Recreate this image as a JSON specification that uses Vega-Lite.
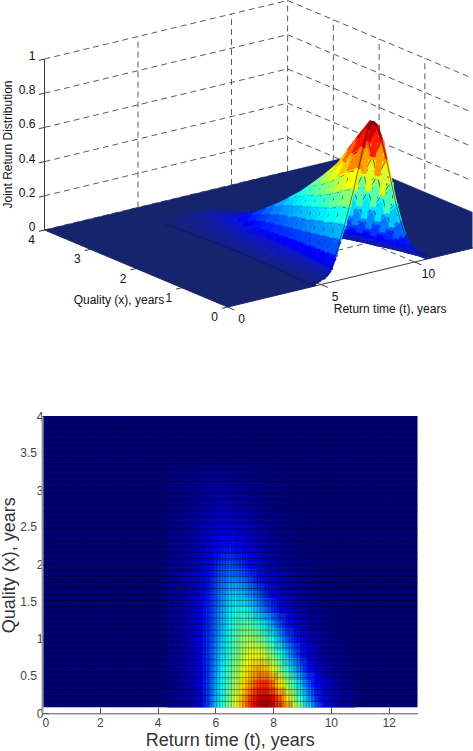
{"$schema":"https://vega.github.io/schema/vega-lite/v6.json","background":"white","padding":0,"spacing":0,"bounds":"flush","resolve":{"scale":{"color":"independent"}},"config":{"view":{"stroke":null},"font":"Liberation Sans"},
"datasets":{"surface":[
{"q":0,"t":4.5,"z":0.012},{"q":0,"t":4.75,"z":0.018},{"q":0,"t":5,"z":0.03},{"q":0,"t":5.25,"z":0.04},{"q":0,"t":5.5,"z":0.07},{"q":0,"t":5.75,"z":0.14},{"q":0,"t":6,"z":0.23},{"q":0,"t":6.25,"z":0.31},{"q":0,"t":6.5,"z":0.41},{"q":0,"t":6.75,"z":0.51},{"q":0,"t":7,"z":0.62},{"q":0,"t":7.25,"z":0.74},{"q":0,"t":7.5,"z":0.84},{"q":0,"t":7.75,"z":0.88},{"q":0,"t":8,"z":0.85},{"q":0,"t":8.25,"z":0.76},{"q":0,"t":8.5,"z":0.64},{"q":0,"t":8.75,"z":0.5},{"q":0,"t":9,"z":0.37},{"q":0,"t":9.25,"z":0.26},{"q":0,"t":9.5,"z":0.17},{"q":0,"t":9.75,"z":0.11},{"q":0,"t":10,"z":0.07},{"q":0,"t":10.25,"z":0.045},{"q":0,"t":10.5,"z":0.03},{"q":0,"t":10.75,"z":0.02},
{"q":0.2,"t":4.5,"z":0.014},{"q":0.2,"t":4.75,"z":0.02},{"q":0.2,"t":5,"z":0.032},{"q":0.2,"t":5.25,"z":0.045},{"q":0.2,"t":5.5,"z":0.075},{"q":0.2,"t":5.75,"z":0.14},{"q":0.2,"t":6,"z":0.22},{"q":0.2,"t":6.25,"z":0.3},{"q":0.2,"t":6.5,"z":0.39},{"q":0.2,"t":6.75,"z":0.48},{"q":0.2,"t":7,"z":0.58},{"q":0.2,"t":7.25,"z":0.68},{"q":0.2,"t":7.5,"z":0.76},{"q":0.2,"t":7.75,"z":0.79},{"q":0.2,"t":8,"z":0.74},{"q":0.2,"t":8.25,"z":0.64},{"q":0.2,"t":8.5,"z":0.52},{"q":0.2,"t":8.75,"z":0.4},{"q":0.2,"t":9,"z":0.29},{"q":0.2,"t":9.25,"z":0.2},{"q":0.2,"t":9.5,"z":0.13},{"q":0.2,"t":9.75,"z":0.085},{"q":0.2,"t":10,"z":0.055},{"q":0.2,"t":10.25,"z":0.035},{"q":0.2,"t":10.5,"z":0.022},{"q":0.2,"t":10.75,"z":0.014},
{"q":0.4,"t":4.5,"z":0.016},{"q":0.4,"t":4.75,"z":0.022},{"q":0.4,"t":5,"z":0.035},{"q":0.4,"t":5.25,"z":0.05},{"q":0.4,"t":5.5,"z":0.08},{"q":0.4,"t":5.75,"z":0.14},{"q":0.4,"t":6,"z":0.21},{"q":0.4,"t":6.25,"z":0.28},{"q":0.4,"t":6.5,"z":0.36},{"q":0.4,"t":6.75,"z":0.44},{"q":0.4,"t":7,"z":0.53},{"q":0.4,"t":7.25,"z":0.61},{"q":0.4,"t":7.5,"z":0.67},{"q":0.4,"t":7.75,"z":0.68},{"q":0.4,"t":8,"z":0.62},{"q":0.4,"t":8.25,"z":0.52},{"q":0.4,"t":8.5,"z":0.41},{"q":0.4,"t":8.75,"z":0.31},{"q":0.4,"t":9,"z":0.22},{"q":0.4,"t":9.25,"z":0.15},{"q":0.4,"t":9.5,"z":0.1},{"q":0.4,"t":9.75,"z":0.065},{"q":0.4,"t":10,"z":0.042},{"q":0.4,"t":10.25,"z":0.027},{"q":0.4,"t":10.5,"z":0.017},{"q":0.4,"t":10.75,"z":0.011},
{"q":0.6,"t":4.5,"z":0.018},{"q":0.6,"t":4.75,"z":0.024},{"q":0.6,"t":5,"z":0.038},{"q":0.6,"t":5.25,"z":0.055},{"q":0.6,"t":5.5,"z":0.085},{"q":0.6,"t":5.75,"z":0.135},{"q":0.6,"t":6,"z":0.2},{"q":0.6,"t":6.25,"z":0.27},{"q":0.6,"t":6.5,"z":0.34},{"q":0.6,"t":6.75,"z":0.41},{"q":0.6,"t":7,"z":0.48},{"q":0.6,"t":7.25,"z":0.54},{"q":0.6,"t":7.5,"z":0.57},{"q":0.6,"t":7.75,"z":0.55},{"q":0.6,"t":8,"z":0.48},{"q":0.6,"t":8.25,"z":0.39},{"q":0.6,"t":8.5,"z":0.3},{"q":0.6,"t":8.75,"z":0.22},{"q":0.6,"t":9,"z":0.155},{"q":0.6,"t":9.25,"z":0.105},{"q":0.6,"t":9.5,"z":0.07},{"q":0.6,"t":9.75,"z":0.045},{"q":0.6,"t":10,"z":0.03},{"q":0.6,"t":10.25,"z":0.019},{"q":0.6,"t":10.5,"z":0.012},{"q":0.6,"t":10.75,"z":0.008},
{"q":0.8,"t":4.5,"z":0.02},{"q":0.8,"t":4.75,"z":0.027},{"q":0.8,"t":5,"z":0.04},{"q":0.8,"t":5.25,"z":0.06},{"q":0.8,"t":5.5,"z":0.09},{"q":0.8,"t":5.75,"z":0.135},{"q":0.8,"t":6,"z":0.19},{"q":0.8,"t":6.25,"z":0.25},{"q":0.8,"t":6.5,"z":0.32},{"q":0.8,"t":6.75,"z":0.38},{"q":0.8,"t":7,"z":0.44},{"q":0.8,"t":7.25,"z":0.485},{"q":0.8,"t":7.5,"z":0.48},{"q":0.8,"t":7.75,"z":0.44},{"q":0.8,"t":8,"z":0.37},{"q":0.8,"t":8.25,"z":0.29},{"q":0.8,"t":8.5,"z":0.22},{"q":0.8,"t":8.75,"z":0.16},{"q":0.8,"t":9,"z":0.11},{"q":0.8,"t":9.25,"z":0.075},{"q":0.8,"t":9.5,"z":0.05},{"q":0.8,"t":9.75,"z":0.032},{"q":0.8,"t":10,"z":0.021},{"q":0.8,"t":10.25,"z":0.013},{"q":0.8,"t":10.5,"z":0.008},{"q":0.8,"t":10.75,"z":0.005},
{"q":1,"t":4.5,"z":0.021},{"q":1,"t":4.75,"z":0.029},{"q":1,"t":5,"z":0.043},{"q":1,"t":5.25,"z":0.062},{"q":1,"t":5.5,"z":0.09},{"q":1,"t":5.75,"z":0.13},{"q":1,"t":6,"z":0.18},{"q":1,"t":6.25,"z":0.24},{"q":1,"t":6.5,"z":0.3},{"q":1,"t":6.75,"z":0.36},{"q":1,"t":7,"z":0.41},{"q":1,"t":7.25,"z":0.42},{"q":1,"t":7.5,"z":0.39},{"q":1,"t":7.75,"z":0.34},{"q":1,"t":8,"z":0.28},{"q":1,"t":8.25,"z":0.215},{"q":1,"t":8.5,"z":0.16},{"q":1,"t":8.75,"z":0.115},{"q":1,"t":9,"z":0.08},{"q":1,"t":9.25,"z":0.054},{"q":1,"t":9.5,"z":0.036},{"q":1,"t":9.75,"z":0.023},{"q":1,"t":10,"z":0.015},{"q":1,"t":10.25,"z":0.009},{"q":1,"t":10.5,"z":0.006},{"q":1,"t":10.75,"z":0.004},
{"q":1.2,"t":4.5,"z":0.022},{"q":1.2,"t":4.75,"z":0.03},{"q":1.2,"t":5,"z":0.044},{"q":1.2,"t":5.25,"z":0.063},{"q":1.2,"t":5.5,"z":0.09},{"q":1.2,"t":5.75,"z":0.125},{"q":1.2,"t":6,"z":0.17},{"q":1.2,"t":6.25,"z":0.22},{"q":1.2,"t":6.5,"z":0.28},{"q":1.2,"t":6.75,"z":0.33},{"q":1.2,"t":7,"z":0.35},{"q":1.2,"t":7.25,"z":0.34},{"q":1.2,"t":7.5,"z":0.3},{"q":1.2,"t":7.75,"z":0.25},{"q":1.2,"t":8,"z":0.2},{"q":1.2,"t":8.25,"z":0.15},{"q":1.2,"t":8.5,"z":0.11},{"q":1.2,"t":8.75,"z":0.078},{"q":1.2,"t":9,"z":0.054},{"q":1.2,"t":9.25,"z":0.036},{"q":1.2,"t":9.5,"z":0.024},{"q":1.2,"t":9.75,"z":0.016},{"q":1.2,"t":10,"z":0.01},{"q":1.2,"t":10.25,"z":0.006},{"q":1.2,"t":10.5,"z":0.004},{"q":1.2,"t":10.75,"z":0.003},
{"q":1.4,"t":4.5,"z":0.023},{"q":1.4,"t":4.75,"z":0.031},{"q":1.4,"t":5,"z":0.045},{"q":1.4,"t":5.25,"z":0.064},{"q":1.4,"t":5.5,"z":0.088},{"q":1.4,"t":5.75,"z":0.12},{"q":1.4,"t":6,"z":0.16},{"q":1.4,"t":6.25,"z":0.21},{"q":1.4,"t":6.5,"z":0.26},{"q":1.4,"t":6.75,"z":0.29},{"q":1.4,"t":7,"z":0.285},{"q":1.4,"t":7.25,"z":0.25},{"q":1.4,"t":7.5,"z":0.21},{"q":1.4,"t":7.75,"z":0.17},{"q":1.4,"t":8,"z":0.13},{"q":1.4,"t":8.25,"z":0.095},{"q":1.4,"t":8.5,"z":0.07},{"q":1.4,"t":8.75,"z":0.05},{"q":1.4,"t":9,"z":0.034},{"q":1.4,"t":9.25,"z":0.023},{"q":1.4,"t":9.5,"z":0.015},{"q":1.4,"t":9.75,"z":0.01},{"q":1.4,"t":10,"z":0.006},{"q":1.4,"t":10.25,"z":0.004},{"q":1.4,"t":10.5,"z":0.003},{"q":1.4,"t":10.75,"z":0.002},
{"q":1.6,"t":4.5,"z":0.023},{"q":1.6,"t":4.75,"z":0.031},{"q":1.6,"t":5,"z":0.044},{"q":1.6,"t":5.25,"z":0.062},{"q":1.6,"t":5.5,"z":0.085},{"q":1.6,"t":5.75,"z":0.115},{"q":1.6,"t":6,"z":0.15},{"q":1.6,"t":6.25,"z":0.19},{"q":1.6,"t":6.5,"z":0.23},{"q":1.6,"t":6.75,"z":0.24},{"q":1.6,"t":7,"z":0.22},{"q":1.6,"t":7.25,"z":0.19},{"q":1.6,"t":7.5,"z":0.155},{"q":1.6,"t":7.75,"z":0.12},{"q":1.6,"t":8,"z":0.09},{"q":1.6,"t":8.25,"z":0.066},{"q":1.6,"t":8.5,"z":0.048},{"q":1.6,"t":8.75,"z":0.034},{"q":1.6,"t":9,"z":0.023},{"q":1.6,"t":9.25,"z":0.015},{"q":1.6,"t":9.5,"z":0.01},{"q":1.6,"t":9.75,"z":0.006},{"q":1.6,"t":10,"z":0.004},{"q":1.6,"t":10.25,"z":0.003},{"q":1.6,"t":10.5,"z":0.002},{"q":1.6,"t":10.75,"z":0.001},
{"q":1.8,"t":4.5,"z":0.022},{"q":1.8,"t":4.75,"z":0.03},{"q":1.8,"t":5,"z":0.042},{"q":1.8,"t":5.25,"z":0.058},{"q":1.8,"t":5.5,"z":0.08},{"q":1.8,"t":5.75,"z":0.105},{"q":1.8,"t":6,"z":0.135},{"q":1.8,"t":6.25,"z":0.165},{"q":1.8,"t":6.5,"z":0.19},{"q":1.8,"t":6.75,"z":0.185},{"q":1.8,"t":7,"z":0.165},{"q":1.8,"t":7.25,"z":0.14},{"q":1.8,"t":7.5,"z":0.11},{"q":1.8,"t":7.75,"z":0.085},{"q":1.8,"t":8,"z":0.063},{"q":1.8,"t":8.25,"z":0.046},{"q":1.8,"t":8.5,"z":0.033},{"q":1.8,"t":8.75,"z":0.023},{"q":1.8,"t":9,"z":0.015},{"q":1.8,"t":9.25,"z":0.01},{"q":1.8,"t":9.5,"z":0.006},{"q":1.8,"t":9.75,"z":0.004},{"q":1.8,"t":10,"z":0.003},{"q":1.8,"t":10.25,"z":0.002},{"q":1.8,"t":10.5,"z":0.001},{"q":1.8,"t":10.75,"z":0.001},
{"q":2,"t":4.5,"z":0.021},{"q":2,"t":4.75,"z":0.028},{"q":2,"t":5,"z":0.038},{"q":2,"t":5.25,"z":0.052},{"q":2,"t":5.5,"z":0.07},{"q":2,"t":5.75,"z":0.09},{"q":2,"t":6,"z":0.115},{"q":2,"t":6.25,"z":0.14},{"q":2,"t":6.5,"z":0.15},{"q":2,"t":6.75,"z":0.14},{"q":2,"t":7,"z":0.12},{"q":2,"t":7.25,"z":0.1},{"q":2,"t":7.5,"z":0.08},{"q":2,"t":7.75,"z":0.06},{"q":2,"t":8,"z":0.045},{"q":2,"t":8.25,"z":0.032},{"q":2,"t":8.5,"z":0.023},{"q":2,"t":8.75,"z":0.016},{"q":2,"t":9,"z":0.01},{"q":2,"t":9.25,"z":0.007},{"q":2,"t":9.5,"z":0.004},{"q":2,"t":9.75,"z":0.003},{"q":2,"t":10,"z":0.002},{"q":2,"t":10.25,"z":0.001},{"q":2,"t":10.5,"z":0.001},{"q":2,"t":10.75,"z":0.001},
{"q":2.2,"t":4.5,"z":0.019},{"q":2.2,"t":4.75,"z":0.025},{"q":2.2,"t":5,"z":0.034},{"q":2.2,"t":5.25,"z":0.045},{"q":2.2,"t":5.5,"z":0.06},{"q":2.2,"t":5.75,"z":0.075},{"q":2.2,"t":6,"z":0.095},{"q":2.2,"t":6.25,"z":0.11},{"q":2.2,"t":6.5,"z":0.115},{"q":2.2,"t":6.75,"z":0.105},{"q":2.2,"t":7,"z":0.09},{"q":2.2,"t":7.25,"z":0.074},{"q":2.2,"t":7.5,"z":0.058},{"q":2.2,"t":7.75,"z":0.044},{"q":2.2,"t":8,"z":0.032},{"q":2.2,"t":8.25,"z":0.023},{"q":2.2,"t":8.5,"z":0.016},{"q":2.2,"t":8.75,"z":0.011},{"q":2.2,"t":9,"z":0.007},{"q":2.2,"t":9.25,"z":0.005},{"q":2.2,"t":9.5,"z":0.003},{"q":2.2,"t":9.75,"z":0.002},{"q":2.2,"t":10,"z":0.001},{"q":2.2,"t":10.25,"z":0.001},{"q":2.2,"t":10.5,"z":0.001},{"q":2.2,"t":10.75,"z":0.001},
{"q":2.4,"t":4.5,"z":0.017},{"q":2.4,"t":4.75,"z":0.022},{"q":2.4,"t":5,"z":0.03},{"q":2.4,"t":5.25,"z":0.039},{"q":2.4,"t":5.5,"z":0.05},{"q":2.4,"t":5.75,"z":0.063},{"q":2.4,"t":6,"z":0.078},{"q":2.4,"t":6.25,"z":0.088},{"q":2.4,"t":6.5,"z":0.088},{"q":2.4,"t":6.75,"z":0.078},{"q":2.4,"t":7,"z":0.066},{"q":2.4,"t":7.25,"z":0.054},{"q":2.4,"t":7.5,"z":0.042},{"q":2.4,"t":7.75,"z":0.031},{"q":2.4,"t":8,"z":0.023},{"q":2.4,"t":8.25,"z":0.016},{"q":2.4,"t":8.5,"z":0.011},{"q":2.4,"t":8.75,"z":0.008},{"q":2.4,"t":9,"z":0.005},{"q":2.4,"t":9.25,"z":0.003},{"q":2.4,"t":9.5,"z":0.002},{"q":2.4,"t":9.75,"z":0.001},{"q":2.4,"t":10,"z":0.001},{"q":2.4,"t":10.25,"z":0.001},{"q":2.4,"t":10.5,"z":0},{"q":2.4,"t":10.75,"z":0},
{"q":2.6,"t":4.5,"z":0.015},{"q":2.6,"t":4.75,"z":0.019},{"q":2.6,"t":5,"z":0.025},{"q":2.6,"t":5.25,"z":0.032},{"q":2.6,"t":5.5,"z":0.041},{"q":2.6,"t":5.75,"z":0.052},{"q":2.6,"t":6,"z":0.062},{"q":2.6,"t":6.25,"z":0.068},{"q":2.6,"t":6.5,"z":0.066},{"q":2.6,"t":6.75,"z":0.058},{"q":2.6,"t":7,"z":0.048},{"q":2.6,"t":7.25,"z":0.038},{"q":2.6,"t":7.5,"z":0.03},{"q":2.6,"t":7.75,"z":0.022},{"q":2.6,"t":8,"z":0.016},{"q":2.6,"t":8.25,"z":0.011},{"q":2.6,"t":8.5,"z":0.008},{"q":2.6,"t":8.75,"z":0.005},{"q":2.6,"t":9,"z":0.003},{"q":2.6,"t":9.25,"z":0.002},{"q":2.6,"t":9.5,"z":0.001},{"q":2.6,"t":9.75,"z":0.001},{"q":2.6,"t":10,"z":0},{"q":2.6,"t":10.25,"z":0},{"q":2.6,"t":10.5,"z":0},{"q":2.6,"t":10.75,"z":0},
{"q":2.8,"t":4.5,"z":0.012},{"q":2.8,"t":4.75,"z":0.016},{"q":2.8,"t":5,"z":0.02},{"q":2.8,"t":5.25,"z":0.026},{"q":2.8,"t":5.5,"z":0.033},{"q":2.8,"t":5.75,"z":0.04},{"q":2.8,"t":6,"z":0.047},{"q":2.8,"t":6.25,"z":0.05},{"q":2.8,"t":6.5,"z":0.047},{"q":2.8,"t":6.75,"z":0.04},{"q":2.8,"t":7,"z":0.033},{"q":2.8,"t":7.25,"z":0.026},{"q":2.8,"t":7.5,"z":0.02},{"q":2.8,"t":7.75,"z":0.015},{"q":2.8,"t":8,"z":0.011},{"q":2.8,"t":8.25,"z":0.007},{"q":2.8,"t":8.5,"z":0.005},{"q":2.8,"t":8.75,"z":0.003},{"q":2.8,"t":9,"z":0.002},{"q":2.8,"t":9.25,"z":0.001},{"q":2.8,"t":9.5,"z":0.001},{"q":2.8,"t":9.75,"z":0},{"q":2.8,"t":10,"z":0},{"q":2.8,"t":10.25,"z":0},{"q":2.8,"t":10.5,"z":0},{"q":2.8,"t":10.75,"z":0},
{"q":3,"t":4.5,"z":0.01},{"q":3,"t":4.75,"z":0.013},{"q":3,"t":5,"z":0.016},{"q":3,"t":5.25,"z":0.02},{"q":3,"t":5.5,"z":0.025},{"q":3,"t":5.75,"z":0.03},{"q":3,"t":6,"z":0.034},{"q":3,"t":6.25,"z":0.035},{"q":3,"t":6.5,"z":0.032},{"q":3,"t":6.75,"z":0.027},{"q":3,"t":7,"z":0.022},{"q":3,"t":7.25,"z":0.017},{"q":3,"t":7.5,"z":0.013},{"q":3,"t":7.75,"z":0.01},{"q":3,"t":8,"z":0.007},{"q":3,"t":8.25,"z":0.005},{"q":3,"t":8.5,"z":0.003},{"q":3,"t":8.75,"z":0.002},{"q":3,"t":9,"z":0.001},{"q":3,"t":9.25,"z":0.001},{"q":3,"t":9.5,"z":0},{"q":3,"t":9.75,"z":0},{"q":3,"t":10,"z":0},{"q":3,"t":10.25,"z":0},{"q":3,"t":10.5,"z":0},{"q":3,"t":10.75,"z":0},
{"q":3.2,"t":4.5,"z":0.008},{"q":3.2,"t":4.75,"z":0.01},{"q":3.2,"t":5,"z":0.012},{"q":3.2,"t":5.25,"z":0.015},{"q":3.2,"t":5.5,"z":0.019},{"q":3.2,"t":5.75,"z":0.022},{"q":3.2,"t":6,"z":0.024},{"q":3.2,"t":6.25,"z":0.023},{"q":3.2,"t":6.5,"z":0.02},{"q":3.2,"t":6.75,"z":0.017},{"q":3.2,"t":7,"z":0.013},{"q":3.2,"t":7.25,"z":0.01},{"q":3.2,"t":7.5,"z":0.008},{"q":3.2,"t":7.75,"z":0.006},{"q":3.2,"t":8,"z":0.004},{"q":3.2,"t":8.25,"z":0.003},{"q":3.2,"t":8.5,"z":0.002},{"q":3.2,"t":8.75,"z":0.001},{"q":3.2,"t":9,"z":0.001},{"q":3.2,"t":9.25,"z":0},{"q":3.2,"t":9.5,"z":0},{"q":3.2,"t":9.75,"z":0},{"q":3.2,"t":10,"z":0},{"q":3.2,"t":10.25,"z":0},{"q":3.2,"t":10.5,"z":0},{"q":3.2,"t":10.75,"z":0}
],
"frame":[
{"g":"grid","t":0,"q":4,"z":0,"t2":13,"q2":4,"z2":0},{"g":"grid","t":0,"q":4,"z":0.2,"t2":13,"q2":4,"z2":0.2},{"g":"grid","t":0,"q":4,"z":0.4,"t2":13,"q2":4,"z2":0.4},{"g":"grid","t":0,"q":4,"z":0.6,"t2":13,"q2":4,"z2":0.6},{"g":"grid","t":0,"q":4,"z":0.8,"t2":13,"q2":4,"z2":0.8},{"g":"grid","t":0,"q":4,"z":1,"t2":13,"q2":4,"z2":1},
{"g":"grid","t":13,"q":4,"z":0,"t2":13,"q2":0,"z2":0},{"g":"grid","t":13,"q":4,"z":0.2,"t2":13,"q2":0,"z2":0.2},{"g":"grid","t":13,"q":4,"z":0.4,"t2":13,"q2":0,"z2":0.4},{"g":"grid","t":13,"q":4,"z":0.6,"t2":13,"q2":0,"z2":0.6},{"g":"grid","t":13,"q":4,"z":0.8,"t2":13,"q2":0,"z2":0.8},{"g":"grid","t":13,"q":4,"z":1,"t2":13,"q2":0,"z2":1},
{"g":"grid","t":5,"q":4,"z":0,"t2":5,"q2":4,"z2":1},{"g":"grid","t":10,"q":4,"z":0,"t2":10,"q2":4,"z2":1},{"g":"grid","t":13,"q":4,"z":0,"t2":13,"q2":4,"z2":1},{"g":"grid","t":13,"q":3,"z":0,"t2":13,"q2":3,"z2":1},{"g":"grid","t":13,"q":2,"z":0,"t2":13,"q2":2,"z2":1},{"g":"grid","t":13,"q":1,"z":0,"t2":13,"q2":1,"z2":1},
{"g":"grid","t":5,"q":0,"z":0,"t2":5,"q2":4,"z2":0},{"g":"grid","t":10,"q":0,"z":0,"t2":10,"q2":4,"z2":0},{"g":"grid","t":0,"q":1,"z":0,"t2":13,"q2":1,"z2":0},{"g":"grid","t":0,"q":2,"z":0,"t2":13,"q2":2,"z2":0},{"g":"grid","t":0,"q":3,"z":0,"t2":13,"q2":3,"z2":0},
{"g":"axis","t":0,"q":4,"z":0,"t2":0,"q2":4,"z2":1},{"g":"axis","t":0,"q":0,"z":0,"t2":15,"q2":0,"z2":0},{"g":"axis","t":0,"q":0,"z":0,"t2":0,"q2":4,"z2":0},
{"g":"axis","t":0,"q":4,"z":0,"t2":-0.3,"q2":4,"z2":0},{"g":"axis","t":0,"q":4,"z":0.2,"t2":-0.3,"q2":4,"z2":0.2},{"g":"axis","t":0,"q":4,"z":0.4,"t2":-0.3,"q2":4,"z2":0.4},{"g":"axis","t":0,"q":4,"z":0.6,"t2":-0.3,"q2":4,"z2":0.6},{"g":"axis","t":0,"q":4,"z":0.8,"t2":-0.3,"q2":4,"z2":0.8},{"g":"axis","t":0,"q":4,"z":1,"t2":-0.3,"q2":4,"z2":1},
{"g":"axis","t":0,"q":3,"z":0,"t2":-0.3,"q2":3,"z2":0},{"g":"axis","t":0,"q":2,"z":0,"t2":-0.3,"q2":2,"z2":0},{"g":"axis","t":0,"q":1,"z":0,"t2":-0.3,"q2":1,"z2":0},{"g":"axis","t":0,"q":0,"z":0,"t2":-0.3,"q2":0,"z2":0},
{"g":"axis","t":0,"q":0,"z":0,"t2":0,"q2":-0.15,"z2":0},{"g":"axis","t":5,"q":0,"z":0,"t2":5,"q2":-0.15,"z2":0},{"g":"axis","t":10,"q":0,"z":0,"t2":10,"q2":-0.15,"z2":0},
{"g":"flat","p":1,"i":1,"t":0,"q":0,"z":0},{"g":"flat","p":1,"i":2,"t":4.75,"q":0,"z":0},{"g":"flat","p":1,"i":3,"t":4.75,"q":4,"z":0},{"g":"flat","p":1,"i":4,"t":0,"q":4,"z":0},
{"g":"flat","p":2,"i":1,"t":10.6,"q":0,"z":0},{"g":"flat","p":2,"i":2,"t":16,"q":0,"z":0},{"g":"flat","p":2,"i":3,"t":16,"q":4,"z":0},{"g":"flat","p":2,"i":4,"t":10.6,"q":4,"z":0},
{"g":"flat","p":3,"i":1,"t":4.5,"q":3.1,"z":0},{"g":"flat","p":3,"i":2,"t":10.75,"q":3.1,"z":0},{"g":"flat","p":3,"i":3,"t":10.75,"q":4,"z":0},{"g":"flat","p":3,"i":4,"t":4.5,"q":4,"z":0},
{"g":"zl","t":0,"q":4,"z":0,"l":"0"},{"g":"zl","t":0,"q":4,"z":0.2,"l":"0.2"},{"g":"zl","t":0,"q":4,"z":0.4,"l":"0.4"},{"g":"zl","t":0,"q":4,"z":0.6,"l":"0.6"},{"g":"zl","t":0,"q":4,"z":0.8,"l":"0.8"},{"g":"zl","t":0,"q":4,"z":1,"l":"1"},
{"g":"ql","t":0,"q":4,"z":0,"l":"4"},{"g":"ql","t":0,"q":3,"z":0,"l":"3"},{"g":"ql","t":0,"q":2,"z":0,"l":"2"},{"g":"ql","t":0,"q":1,"z":0,"l":"1"},{"g":"ql","t":0,"q":0,"z":0,"l":"0"},
{"g":"tl","t":0,"q":0,"z":0,"l":"0"},{"g":"tl","t":5,"q":0,"z":0,"l":"5"},{"g":"tl","t":10,"q":0,"z":0,"l":"10"},
{"g":"qt","t":0,"q":2,"z":0,"l":"Quality (x), years"},{"g":"tt","t":8,"q":0,"z":0,"l":"Return time (t), years"},{"g":"jt","t":0,"q":4,"z":0.5,"l":"Joint Return Distribution"}
],
"heatbase":[{"t0":0.05,"t1":13,"q0":0.08,"q1":4}],
"halfs":[{"v":0.5,"l":"0.5"},{"v":1.5,"l":"1.5"},{"v":2.5,"l":"2.5"},{"v":3.5,"l":"3.5"}],
"vlines":[{"v":0.15},{"v":0.25},{"v":0.35},{"v":0.45},{"v":0.55},{"v":0.65},{"v":0.75},{"v":0.85},{"v":0.95},{"v":1.05},{"v":1.15},{"v":1.25},{"v":1.35},{"v":1.45},{"v":1.55},{"v":1.65},{"v":1.75},{"v":1.85},{"v":1.95},{"v":2.05},{"v":2.15},{"v":2.25},{"v":2.35},{"v":2.45},{"v":2.55},{"v":2.65},{"v":2.75},{"v":2.85},{"v":2.95},{"v":3.05},{"v":3.15},{"v":3.25},{"v":3.35},{"v":3.45},{"v":3.55},{"v":3.65},{"v":3.75},{"v":3.85},{"v":3.95},{"v":4.05},{"v":4.15},{"v":4.25},{"v":4.35},{"v":4.45},{"v":4.55},{"v":4.65},{"v":4.75},{"v":4.85},{"v":4.95},{"v":5.05},{"v":5.15},{"v":5.25},{"v":5.35},{"v":5.45},{"v":5.55},{"v":5.65},{"v":5.75},{"v":5.85},{"v":5.95},{"v":6.05},{"v":6.15},{"v":6.25},{"v":6.35},{"v":6.45},{"v":6.55},{"v":6.65},{"v":6.75},{"v":6.85},{"v":6.95},{"v":7.05},{"v":7.15},{"v":7.25},{"v":7.35},{"v":7.45},{"v":7.55},{"v":7.65},{"v":7.75},{"v":7.85},{"v":7.95},{"v":8.05},{"v":8.15},{"v":8.25},{"v":8.35},{"v":8.45},{"v":8.55},{"v":8.65},{"v":8.75},{"v":8.85},{"v":8.95},{"v":9.05},{"v":9.15},{"v":9.25},{"v":9.35},{"v":9.45},{"v":9.55},{"v":9.65},{"v":9.75},{"v":9.85},{"v":9.95},{"v":10.05},{"v":10.15},{"v":10.25},{"v":10.35},{"v":10.45},{"v":10.55},{"v":10.65},{"v":10.75},{"v":10.85},{"v":10.95},{"v":11.05},{"v":11.15},{"v":11.25},{"v":11.35},{"v":11.45},{"v":11.55},{"v":11.65},{"v":11.75},{"v":11.85},{"v":11.95},{"v":12.05},{"v":12.15},{"v":12.25},{"v":12.35},{"v":12.45},{"v":12.55},{"v":12.65},{"v":12.75},{"v":12.85},{"v":12.95}],
"hlines":[{"v":0.16},{"v":0.24},{"v":0.32},{"v":0.4},{"v":0.48},{"v":0.56},{"v":0.64},{"v":0.72},{"v":0.8},{"v":0.88},{"v":0.96},{"v":1.04},{"v":1.12},{"v":1.2},{"v":1.28},{"v":1.36},{"v":1.44},{"v":1.52},{"v":1.6},{"v":1.68},{"v":1.76},{"v":1.84},{"v":1.92},{"v":2},{"v":2.08},{"v":2.16},{"v":2.24},{"v":2.32},{"v":2.4},{"v":2.48},{"v":2.56},{"v":2.64},{"v":2.72},{"v":2.8},{"v":2.88},{"v":2.96},{"v":3.04},{"v":3.12},{"v":3.2},{"v":3.28},{"v":3.36},{"v":3.44},{"v":3.52},{"v":3.6},{"v":3.68},{"v":3.76},{"v":3.84},{"v":3.92}]
},
"vconcat":[
{"width":430.5,"height":416,"data":{"name":"frame"},
"transform":[
{"calculate":"228+18.7*datum.t-45.75*datum.q","as":"sx"},
{"calculate":"307-4.5*datum.t-19.25*datum.q-171*datum.z","as":"sy"},
{"calculate":"228+18.7*datum.t2-45.75*datum.q2","as":"sx2"},
{"calculate":"307-4.5*datum.t2-19.25*datum.q2-171*datum.z2","as":"sy2"}],
"encoding":{"x":{"field":"sx","type":"quantitative","axis":null,"scale":{"domain":[42.5,473],"nice":false,"zero":false}},"y":{"field":"sy","type":"quantitative","axis":null,"scale":{"domain":[416,0],"nice":false,"zero":false}}},
"layer":[
{"transform":[{"filter":"datum.g=='grid'"}],"mark":{"type":"rule","clip":true,"stroke":"#4a4a4a","strokeWidth":0.9,"strokeDash":[6,4]},"encoding":{"x2":{"field":"sx2"},"y2":{"field":"sy2"}}},
{"transform":[{"filter":"datum.g=='axis'"}],"mark":{"type":"rule","clip":false,"stroke":"#3c3c3c","strokeWidth":1},"encoding":{"x2":{"field":"sx2"},"y2":{"field":"sy2"}}},
{"transform":[{"filter":"datum.g=='flat'"}],"mark":{"type":"line","clip":true,"fill":"#16246e","stroke":"#16246e","strokeWidth":0.5},"encoding":{"detail":{"field":"p"},"order":{"field":"i","type":"quantitative"}}},
{"data":{"name":"surface"},
"transform":[
{"window":[{"op":"lead","field":"t","as":"tn"},{"op":"lead","field":"z","as":"zt"}],"groupby":["q"],"sort":[{"field":"t"}]},
{"window":[{"op":"lead","field":"q","as":"qn"},{"op":"lead","field":"z","as":"zq"}],"groupby":["t"],"sort":[{"field":"q"}]},
{"window":[{"op":"lead","field":"zq","as":"zd"}],"groupby":["q"],"sort":[{"field":"t"}]},
{"calculate":"[0,1,2,3,4,5]","as":"k"},{"flatten":["k"]},
{"filter":"datum.k<2 ? (datum.tn!=null && datum.qn!=null) : (datum.k%2==0 ? datum.tn!=null : datum.qn!=null)"},
{"calculate":"datum.k==1?datum.tn:datum.t","as":"t1"},
{"calculate":"datum.k==1?datum.zt:datum.z","as":"z1"},
{"calculate":"datum.k==0?datum.tn:(datum.k==1?datum.t:(datum.k%2==0?datum.tn:datum.t))","as":"t2"},
{"calculate":"datum.k<2?datum.qn:(datum.k%2==0?datum.q:datum.qn)","as":"q2"},
{"calculate":"datum.k==0?datum.zd:(datum.k==1?datum.zq:(datum.k%2==0?datum.zt:datum.zq))","as":"z2"},
{"calculate":"228+18.7*datum.t1-45.75*datum.q","as":"sx"},
{"calculate":"307-4.5*datum.t1-19.25*datum.q-171*datum.z1","as":"sy"},
{"calculate":"228+18.7*datum.t2-45.75*datum.q2","as":"sx2"},
{"calculate":"307-4.5*datum.t2-19.25*datum.q2-171*datum.z2","as":"sy2"},
{"calculate":"datum.k<2?(datum.z+datum.zt+datum.zq+datum.zd)/4:(datum.z1+datum.z2)/2","as":"cv"},
{"calculate":"datum.k>=4?0.8:(datum.k<2?6:(datum.k==3?4:(datum.q==0?3:5)))","as":"w"},
{"calculate":"datum.k>=4?0.7:1","as":"op"},
{"calculate":"-datum.q*100000-datum.t*100+datum.k","as":"o"}],
"mark":{"type":"rule","clip":true},
"encoding":{"x2":{"field":"sx2"},"y2":{"field":"sy2"},"order":{"field":"o","type":"quantitative"},"strokeWidth":{"field":"w","type":"quantitative","scale":null,"legend":null},"opacity":{"field":"op","type":"quantitative","scale":null,"legend":null},
"color":{"condition":{"test":"datum.k>=4","value":"#101028"},"field":"cv","type":"quantitative","legend":null,"scale":{"interpolate":"rgb","domain":[0,0.09,0.11,0.33,0.55,0.77,0.88],"range":["#16246e","#0a14d8","#0000ff","#00ffff","#ffff00","#ff0000","#800000"]}}}},
{"transform":[{"filter":"datum.g=='zl'"}],"mark":{"type":"text","align":"right","dx":-9,"dy":-3,"fontSize":12,"color":"#111"},"encoding":{"text":{"field":"l"}}},
{"transform":[{"filter":"datum.g=='ql'"}],"mark":{"type":"text","dx":-13,"dy":10,"fontSize":12,"color":"#111"},"encoding":{"text":{"field":"l"}}},
{"transform":[{"filter":"datum.g=='tl'"}],"mark":{"type":"text","dx":14,"dy":12,"fontSize":12,"color":"#111"},"encoding":{"text":{"field":"l"}}},
{"transform":[{"filter":"datum.g=='qt'"}],"mark":{"type":"text","dx":-17,"dy":31,"fontSize":12,"color":"#111"},"encoding":{"text":{"field":"l"}}},
{"transform":[{"filter":"datum.g=='tt'"}],"mark":{"type":"text","dx":13,"dy":38,"fontSize":12,"color":"#111"},"encoding":{"text":{"field":"l"}}},
{"transform":[{"filter":"datum.g=='jt'"}],"mark":{"type":"text","angle":270,"dy":-37,"fontSize":12,"color":"#111"},"encoding":{"text":{"field":"l"}}}
]},
{"width":375.5,"height":297.3,
"layer":[
{"data":{"name":"heatbase"},"mark":{"type":"rect","color":"#00007c"},"encoding":{
"x":{"field":"t0","type":"quantitative","scale":{"domain":[0,13],"nice":false},"axis":{"title":"Return time (t), years","values":[0,2,4,6,8,10,12],"tickSize":-6,"tickColor":"#555","domainColor":"#555","labelColor":"#444","labelFontSize":12,"titleFontSize":18,"titleFontWeight":"normal","titleColor":"#333","labelPadding":10,"titleY":32,"titleBaseline":"alphabetic","grid":false}},"x2":{"field":"t1"},
"y":{"field":"q0","type":"quantitative","scale":{"domain":[0,4],"nice":false},"axis":{"title":"Quality (x), years","values":[0,0.5,1,1.5,2,2.5,3,3.5,4],"labelExpr":"''+datum.value","labelOverlap":false,"tickSize":-6,"tickColor":"#555","domainColor":"#999","domainWidth":2,"labelColor":"#444","labelFontSize":12,"titleFontSize":18,"titleFontWeight":"normal","titleColor":"#333","labelPadding":5,"titleX":-28,"titleBaseline":"alphabetic","grid":false}},"y2":{"field":"q1"}}},
{"data":{"name":"surface"},"transform":[{"calculate":"datum.t-0.1875","as":"ha"},{"calculate":"datum.t+0.0625","as":"hb"},{"calculate":"max(datum.q-0.15,0.08)","as":"hc"},{"calculate":"max(datum.q+0.05,0.08)","as":"hd"}],
"mark":{"type":"rect"},"encoding":{"x":{"field":"ha","type":"quantitative"},"x2":{"field":"hb"},"y":{"field":"hc","type":"quantitative"},"y2":{"field":"hd"},
"color":{"field":"z","type":"quantitative","legend":null,"scale":{"interpolate":"rgb","domain":[0,0.1,0.27,0.5,0.72,0.88],"range":["#00007c","#0000ff","#00ffff","#ffff00","#ff0000","#800000"]}}}},
{"data":{"name":"surface"},"transform":[{"calculate":"datum.t-0.0625","as":"ha"},{"calculate":"datum.t+0.1875","as":"hb"},{"calculate":"max(datum.q-0.05,0.08)","as":"hc"},{"calculate":"datum.q+0.15","as":"hd"}],
"mark":{"type":"rect","opacity":0.5},"encoding":{"x":{"field":"ha","type":"quantitative"},"x2":{"field":"hb"},"y":{"field":"hc","type":"quantitative"},"y2":{"field":"hd"},
"color":{"field":"z","type":"quantitative","legend":null}}},
{"data":{"name":"vlines"},"mark":{"type":"rule","stroke":"#000","strokeWidth":1,"opacity":0.25},"encoding":{"x":{"field":"v","type":"quantitative"},"y":{"datum":0.08},"y2":{"datum":4}}},
{"data":{"name":"hlines"},"mark":{"type":"rule","stroke":"#000","strokeWidth":1,"opacity":0.4},"encoding":{"y":{"field":"v","type":"quantitative"},"x":{"datum":0.05},"x2":{"datum":13}}},
{"data":{"name":"halfs"},"mark":{"type":"text","align":"right","dx":-5,"fontSize":12,"color":"#444"},"encoding":{"y":{"field":"v","type":"quantitative"},"x":{"datum":0},"text":{"field":"l"}}}
]}
]}
